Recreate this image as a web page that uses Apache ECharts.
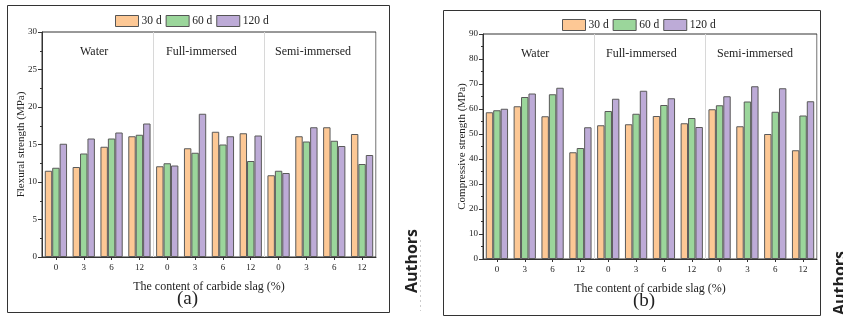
<!DOCTYPE html>
<html><head><meta charset="utf-8">
<script src="https://cdn.jsdelivr.net/npm/echarts@6/dist/echarts.min.js"></script>
<style>html,body{margin:0;padding:0;background:#fff}#c{width:843px;height:320px}</style>
</head><body><div id="c"></div>
<script>
const categories = ['0','3','6','12','0','3','6','12','0','3','6','12'];
const groups = ['Water','Full-immersed','Semi-immersed'];
const seriesNames = ['30 d','60 d','120 d'];
// (a) Flexural strength (MPa)
const flex30 = [11.5, 12.0, 14.7, 16.1, 12.1, 14.5, 16.7, 16.5, 10.9, 16.1, 17.3, 16.4];
const flex60 = [11.9, 13.8, 15.8, 16.3, 12.5, 13.9, 15.0, 12.8, 11.5, 15.4, 15.5, 12.4];
const flex120 = [15.1, 15.8, 16.6, 17.8, 12.2, 19.1, 16.1, 16.2, 11.2, 17.3, 14.8, 13.6];
// (b) Compressive strength (MPa)
const comp30 = [58.7, 61.1, 57.1, 42.7, 53.5, 53.9, 57.2, 54.3, 59.9, 53.1, 50.0, 43.5];
const comp60 = [59.5, 64.8, 65.9, 44.4, 59.2, 58.1, 61.6, 56.4, 61.5, 63.0, 58.9, 57.4];
const comp120 = [60.1, 66.2, 68.5, 52.7, 64.1, 67.3, 64.3, 52.8, 65.1, 69.1, 68.3, 63.1];
const flexTicks = {min:0, max:30, interval:5};
const compTicks = {min:0, max:90, interval:10};

const colors = ['#FDC895','#9BD69B','#BDABD7'];
const serif = '"Liberation Serif","Times New Roman",serif';
const chart = echarts.init(document.getElementById('c'));

function xAx(gi){
  return {type:'category', gridIndex:gi, data:categories,
    axisLine:{lineStyle:{color:'#333',width:1}},
    axisTick:{show:true, alignWithLabel:true, length:3, lineStyle:{color:'#333'}},
    axisLabel:{fontFamily:serif, fontSize:9, color:'#222', margin:6},
    splitLine:{show:true, interval:function(i){return i===4||i===8;}, lineStyle:{color:'#d8d8d8',width:1}},
    name:'The content of carbide slag (%)', nameLocation:'middle', nameGap:24, nameMoveOverlap:false,
    nameTextStyle:{fontFamily:serif, fontSize:12, color:'#222'}};
}
function yAx(gi, t, name){
  return {type:'value', gridIndex:gi, min:t.min, max:t.max, interval:t.interval,
    axisLine:{show:true, lineStyle:{color:'#333',width:1}},
    axisTick:{show:true, length:4, lineStyle:{color:'#333'}},
    minorTick:{show:true, splitNumber:2, length:2, lineStyle:{color:'#333'}},
    splitLine:{show:false},
    axisLabel:{fontFamily:serif, fontSize:9, color:'#222', margin:5},
    name:name, nameLocation:'middle', nameGap:15, nameMoveOverlap:false,
    nameTextStyle:{fontFamily:serif, fontSize:11, color:'#222'}};
}
function bars(gi, arrs){
  return arrs.map((d,k)=>({type:'bar', name:seriesNames[k], xAxisIndex:gi, yAxisIndex:gi, data:d,
    barGap:'0%', barCategoryGap:'20%',
    itemStyle:{color:colors[k], borderColor:'#5a5a5a', borderWidth:1}}));
}
function legend(left, top){
  return {data:seriesNames, left:left, top:top, itemWidth:23, itemHeight:11, itemGap:4,
    icon:'rect',
    itemStyle:{borderColor:'#555', borderWidth:1},
    textStyle:{fontFamily:serif, fontSize:11.5, color:'#222', padding:[0,0,0,-2]}};
}
function txt(x,y,s,size){return {type:'text', left:x, top:y, style:{text:s, font:size+'px '+serif, fill:'#222'}};}

chart.setOption({
  animation:false,
  grid:[
    {left:42, top:32, width:334, height:225, show:true, borderColor:'#333', borderWidth:1},
    {left:483, top:34, width:334, height:225, show:true, borderColor:'#333', borderWidth:1}
  ],
  legend:[legend(110,10), legend(557,14)],
  xAxis:[xAx(0), xAx(1)],
  yAxis:[yAx(0, flexTicks, 'Flexural strength (MPa)'), yAx(1, compTicks, 'Compressive strength (MPa)')],
  series:[...bars(0,[flex30,flex60,flex120]), ...bars(1,[comp30,comp60,comp120])],
  graphic:[
    {type:'rect', shape:{x:7.5,y:5.5,width:382,height:307}, style:{fill:'none', stroke:'#333', lineWidth:1}, z:0},
    {type:'rect', shape:{x:443.5,y:10.5,width:377,height:305}, style:{fill:'none', stroke:'#333', lineWidth:1}, z:0},
    txt(80,46,groups[0],12), txt(166,46,groups[1],12), txt(275,46,groups[2],12),
    txt(521,48,groups[0],12), txt(606,48,groups[1],12), txt(717,48,groups[2],12),
    {type:'text', left:177, top:290, style:{text:'(a)', font:'19px '+serif, fill:'#222'}},
    {type:'text', left:633, top:292, style:{text:'(b)', font:'19px '+serif, fill:'#222'}},
    {type:'text', x:420, y:261, rotation:Math.PI/2, style:{text:'Authors', font:'bold 16px "Open Sans",sans-serif', fill:'#222', textAlign:'center', textVerticalAlign:'bottom'}},
    {type:'text', x:848, y:283, rotation:Math.PI/2, style:{text:'Authors', font:'bold 16px "Open Sans",sans-serif', fill:'#222', textAlign:'center', textVerticalAlign:'bottom'}},
    {type:'line', shape:{x1:420.5,y1:240,x2:420.5,y2:311}, style:{stroke:'#ccc', lineWidth:1, lineDash:[2,3]}}
  ]
});
</script></body></html>
